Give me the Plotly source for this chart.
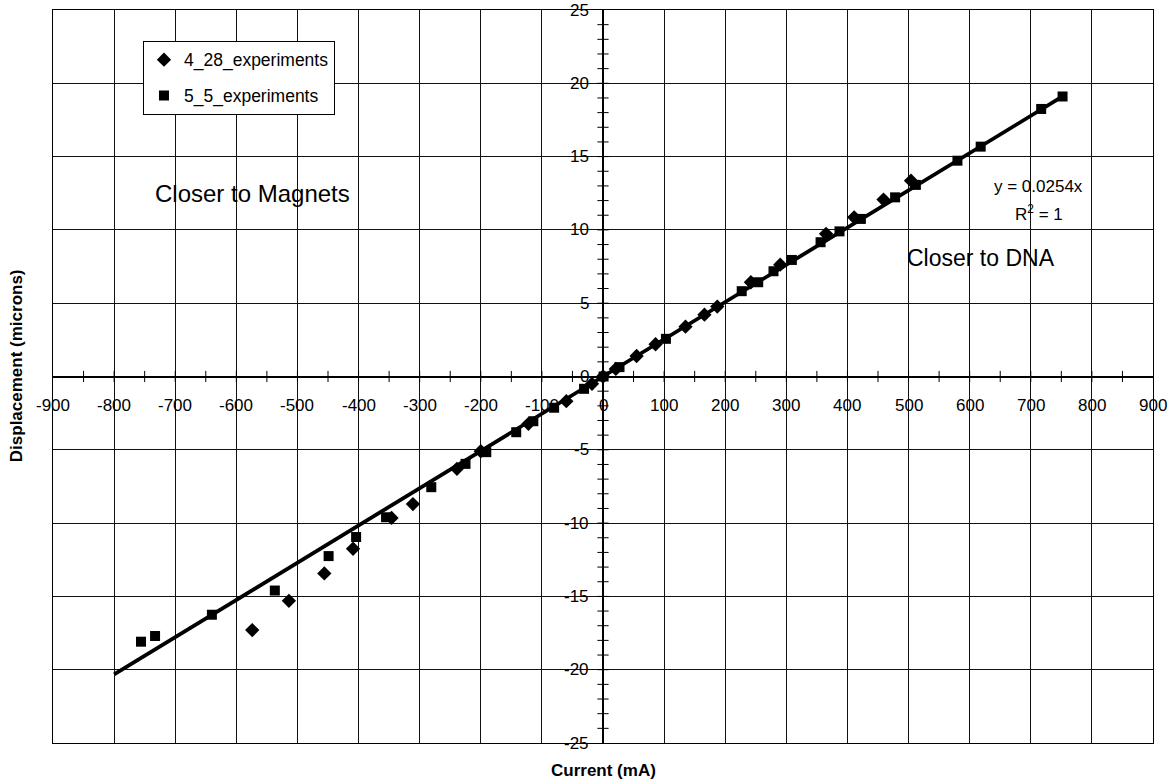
import plotly.graph_objects as go

# ---- data ----
x_428 = [-574, -514, -456, -409, -346, -311, -239, -200, -122, -60, -18, 0, 21, 55, 86,
         135, 166, 187, 242, 290, 365, 411, 459, 504]
y_428 = [-17.3, -15.3, -13.43, -11.75, -9.65, -8.7, -6.3, -5.1, -3.23, -1.68, -0.5, 0, 0.52,
         1.4, 2.2, 3.4, 4.22, 4.77, 6.43, 7.63, 9.73, 10.86, 12.07, 13.36]

x_55 = [-756, -733, -640, -537, -449, -404, -355, -281, -225, -191, -142, -114, -80, -31, 1,
        27, 103, 227, 254, 279, 309, 356, 387, 422, 478, 512, 580, 618, 717, 752]
y_55 = [-18.09, -17.7, -16.25, -14.6, -12.25, -10.95, -9.6, -7.55, -5.96, -5.16, -3.8, -3.05,
        -2.13, -0.84, 0, 0.64, 2.57, 5.82, 6.43, 7.18, 7.95, 9.16, 9.9, 10.75, 12.22, 13.07,
        14.72, 15.68, 18.25, 19.1]

slope = 0.0254
fit_x = [-800, 750]
fit_y = [slope * v for v in fit_x]

x_ticks = list(range(-900, 901, 100))
y_ticks = list(range(-25, 26, 5))
x_minor = list(range(-850, 851, 50))
y_minor = list(range(-24, 25, 1))

FONT = "Arial, Liberation Sans, sans-serif"

fig = go.Figure()

# tick marks crossing the centred axes
fig.add_trace(go.Scatter(x=x_minor, y=[0] * len(x_minor), mode="markers",
                         marker=dict(symbol="line-ns", size=8, line=dict(color="black", width=1)),
                         showlegend=False, hoverinfo="skip"))
fig.add_trace(go.Scatter(x=[0] * len(y_minor), y=y_minor, mode="markers",
                         marker=dict(symbol="line-ew", size=8, line=dict(color="black", width=1)),
                         showlegend=False, hoverinfo="skip"))

# trendline
fig.add_trace(go.Scatter(x=fit_x, y=fit_y, mode="lines",
                         line=dict(color="black", width=3.8), showlegend=False))

fig.add_trace(go.Scatter(x=x_428, y=y_428, mode="markers", name="4_28_experiments",
                         legendgroup="a",
                         marker=dict(symbol="diamond", size=11, color="black")))
fig.add_trace(go.Scatter(x=x_55, y=y_55, mode="markers", name="5_5_experiments",
                         legendgroup="b",
                         marker=dict(symbol="square", size=10, color="black")))

annotations = []
for v in x_ticks:
    annotations.append(dict(x=v, y=0, xref="x", yref="y", text=str(v), showarrow=False,
                            yanchor="top", yshift=-17, font=dict(family=FONT, size=17, color="black")))
for v in y_ticks:
    annotations.append(dict(x=0, y=v, xref="x", yref="y", text=str(v), showarrow=False,
                            xanchor="right", xshift=-12, font=dict(family=FONT, size=17, color="black")))

annotations += [
    dict(x=-573, y=12.5, text="Closer to Magnets", showarrow=False,
         font=dict(family=FONT, size=24, color="black")),
    dict(x=618, y=8.1, text="Closer to DNA", showarrow=False,
         font=dict(family=FONT, size=23, color="black")),
    dict(x=713, y=12.95, text="y = 0.0254x", showarrow=False,
         font=dict(family=FONT, size=17, color="black")),
    dict(x=713, y=11.15, text="R<sup>2</sup> = 1", showarrow=False,
         font=dict(family=FONT, size=17, color="black")),
    dict(x=0.5, y=-0.038, xref="paper", yref="paper", text="<b>Current (mA)</b>", showarrow=False,
         xanchor="center", yanchor="middle",
         font=dict(family=FONT, size=17, color="black")),
    dict(x=-0.033, y=0.515, xref="paper", yref="paper", text="<b>Displacement (microns)</b>",
         showarrow=False, textangle=-90, xanchor="center", yanchor="middle",
         font=dict(family=FONT, size=17, color="black")),
]

axis_common = dict(showgrid=True, gridcolor="#111111", gridwidth=1, zeroline=True,
                   zerolinecolor="black", zerolinewidth=1.5, showline=True, mirror=True,
                   linecolor="black", linewidth=1, showticklabels=False, ticks="")

fig.update_layout(
    width=1173, height=784,
    margin=dict(l=53, r=20, t=10, b=41),
    paper_bgcolor="white", plot_bgcolor="white",
    xaxis=dict(range=[-900, 900], tickvals=x_ticks, **axis_common),
    yaxis=dict(range=[-25, 25], tickvals=y_ticks, **axis_common),
    legend=dict(x=0.0818, y=0.958, xanchor="left", yanchor="top", bgcolor="white",
                bordercolor="black", borderwidth=1, tracegroupgap=10,
                entrywidth=190, entrywidthmode="pixels",
                font=dict(family=FONT, size=17.5, color="black")),
    annotations=annotations,
    font=dict(family=FONT, color="black"),
)

fig.write_html("out.html", config={"displayModeBar": False},
               post_script="document.body.style.margin='0';document.body.style.padding='0';")
